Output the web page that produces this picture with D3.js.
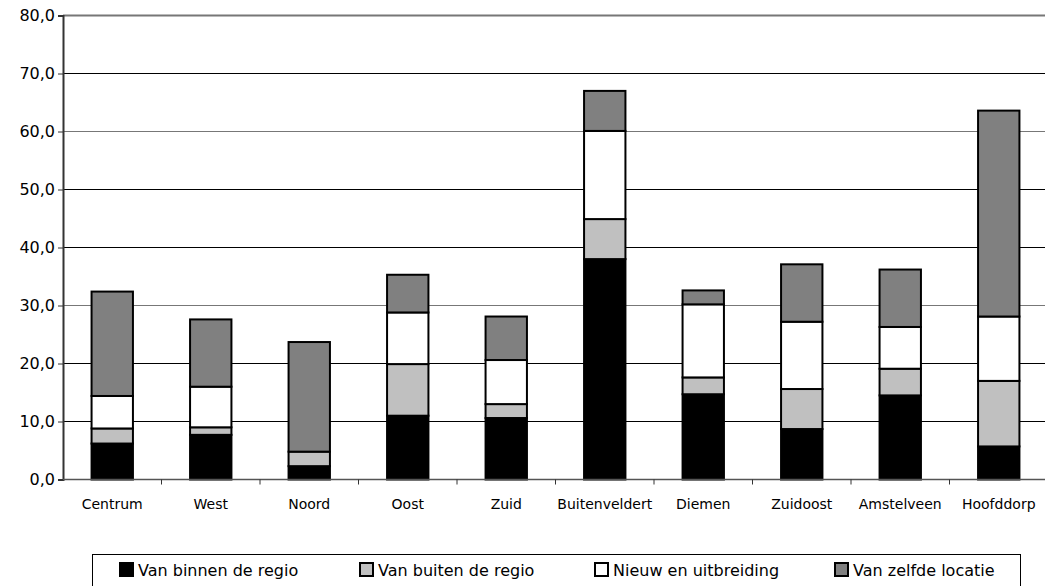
<!DOCTYPE html>
<html><head><meta charset="utf-8">
<script src="https://cdn.jsdelivr.net/npm/d3@7"></script>
<style>body{margin:0;background:#fff}svg{display:block}</style>
</head><body>
<svg id="c" width="1045" height="586"></svg>
<script>
const categories = ["Centrum","West","Noord","Oost","Zuid","Buitenveldert","Diemen","Zuidoost","Amstelveen","Hoofddorp"];
const seriesNames = ["Van binnen de regio","Van buiten de regio","Nieuw en uitbreiding","Van zelfde locatie"];
const binnen = [6.2, 7.7, 2.3, 11.0, 10.6, 38.0, 14.7, 8.7, 14.5, 5.7];
const buiten = [2.6, 1.3, 2.5, 8.9, 2.4, 6.9, 2.9, 6.9, 4.6, 11.3];
const nieuw  = [5.6, 7.0, 0.0, 8.9, 7.6, 15.2, 12.6, 11.6, 7.2, 11.1];
const zelfde = [18.0, 11.6, 18.9, 6.5, 7.5, 6.9, 2.4, 9.9, 9.9, 35.5];
const yTicks = [0,10,20,30,40,50,60,70,80];
const colors = ["#000000","#c0c0c0","#ffffff","#808080"];

const svg = d3.select("#c");
const font = "'DejaVu Sans', Verdana, sans-serif";
const x = d3.scaleBand().domain(categories).range([63, 1048]).paddingInner(0.58).paddingOuter(0.29);
const xc = d3.scaleBand().domain(categories).range([63, 1048]);
const y = d3.scaleLinear().domain([0, 80]).range([479.5, 15.5]);

// gridlines
svg.append("g").selectAll("line").data(yTicks.filter(d=>d>0)).join("line")
  .attr("x1", 63).attr("x2", 1045).attr("y1", d=>y(d)).attr("y2", d=>y(d))
  .attr("stroke", d => (d===80||d===60||d===30) ? "#777" : "#000").attr("stroke-width", d => d===80 ? 2 : 1);

// stacked data
const rows = categories.map((c,i)=>({cat:c, s0:binnen[i], s1:buiten[i], s2:nieuw[i], s3:zelfde[i]}));
const stack = d3.stack().keys(["s0","s1","s2","s3"])(rows);
const g = svg.append("g");
stack.forEach((layer, k) => {
  g.selectAll(null).data(layer.filter(d => d[1]-d[0] > 0)).join("rect")
    .attr("x", d => x(d.data.cat)).attr("width", x.bandwidth())
    .attr("y", d => y(d[1])).attr("height", d => y(d[0]) - y(d[1]))
    .attr("fill", colors[k]).attr("stroke", "#000").attr("stroke-width", 2);
});

// y axis
const ya = d3.axisLeft(y).tickValues(yTicks).tickSize(5).tickPadding(4)
  .tickFormat(d => d3.format(".1f")(d).replace(".", ","));
const yg = svg.append("g").attr("transform","translate(63,0)").call(ya);
yg.select(".domain").attr("stroke","#333").attr("stroke-width",2);
yg.selectAll(".tick line").attr("stroke","#333");
yg.selectAll("text").attr("font-family", font).attr("font-size", 16).attr("fill","#000").attr("x",-8);

// x axis
const xg = svg.append("g").attr("transform","translate(0,479.5)");
xg.append("line").attr("x1",63).attr("x2",1045).attr("stroke","#555").attr("stroke-width",1.5);
xg.selectAll(".tk").data(categories.slice(1)).join("line").attr("class","tk")
  .attr("x1", d=>xc(d)).attr("x2", d=>xc(d)).attr("y1",0).attr("y2",5).attr("stroke","#333");
xg.selectAll("text").data(categories).join("text")
  .attr("x", d => xc(d) + xc.bandwidth()/2).attr("y", 29)
  .attr("text-anchor","middle").attr("font-family", font).attr("font-size", 14).text(d=>d);

// legend
const lg = svg.append("g");
lg.append("rect").attr("x",92.5).attr("y",554.5).attr("width",928).attr("height",40)
  .attr("fill","#fff").attr("stroke","#000").attr("stroke-width",1);
const lx = [120, 360, 595, 835];
seriesNames.forEach((n,i) => {
  lg.append("rect").attr("x", lx[i]).attr("y", 563).attr("width", 13).attr("height", 13)
    .attr("fill", colors[i]).attr("stroke","#000").attr("stroke-width",2);
  lg.append("text").attr("x", lx[i]+18).attr("y", 576).attr("font-family", font)
    .attr("font-size", 16).text(n);
});
</script>
</body></html>
